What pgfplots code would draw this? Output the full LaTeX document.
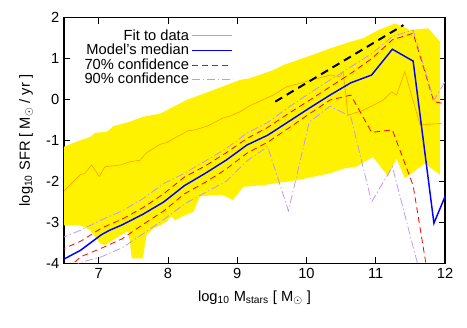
\documentclass[border=0pt]{standalone}
\usepackage{fontspec}
\setmainfont{Liberation Sans}
\usepackage{pgfplots}
\pgfplotsset{compat=1.18}

\definecolor{fitorange}{RGB}{255,165,0}
\definecolor{lavender}{RGB}{190,150,255}

\begin{document}
\begin{tikzpicture}[font=\fontsize{11}{13}\selectfont]
\begin{axis}[
  scale only axis, width=285.75pt, height=184.2pt,
  xmin=6.5, xmax=12, ymin=-4, ymax=2,
  xtick={7,...,12}, ytick={-4,...,2},
  tick align=inside, major tick length=4.5pt,
  tick style={black, line width=0.6pt},
  /pgf/number format/assume math mode=true,
  every axis label/.append style={font=\fontsize{11}{13}\selectfont},
  tick label style={font=\fontsize{11}{13}\selectfont},
  xlabel={log\textsubscript{10} M\textsubscript{stars} [ M$_\odot$ ]},
  ylabel={log\textsubscript{10} SFR [ M$_\odot$ / yr ]},
  xlabel style={yshift=-2.5pt},
  ylabel style={yshift=3pt},
  axis line style={line width=0.8pt},
  legend plot pos=right, legend cell align=right,
  legend style={draw=none, fill=none, at={(0.455,0.975)}, anchor=north east,
    row sep=-2.5pt, font=\fontsize{11}{13}\selectfont},
  legend image code/.code={\draw[#1] (0pt,0pt) -- (30pt,0pt);},
]
% yellow band: upper edge left to right, lower edge right to left
\addplot[fill=yellow, draw=none, forget plot] coordinates {
 (6.5,-1.15) (6.68,-1.03) (6.88,-0.91) (6.95,-0.81) (7.12,-0.79) (7.21,-0.65)
 (7.45,-0.54) (7.64,-0.42) (7.89,-0.34) (8.27,-0.01) (8.65,0.23) (9.04,0.48)
 (9.18,0.52) (9.52,0.72) (9.66,0.84) (10.15,1.13) (10.34,1.25) (10.63,1.41)
 (10.82,1.50) (11.04,1.70) (11.28,1.86) (11.49,1.70) (11.76,1.74) (11.93,1.41)
 (11.93,-1.84) (11.71,-1.56) (11.42,-1.92) (11.3,-1.44) (11.18,-1.88) (10.96,-1.40)
 (10.72,-1.64) (10.55,-1.68) (10.34,-1.80) (9.86,-1.97) (9.38,-2.09) (9.09,-2.13)
 (8.94,-2.45) (8.78,-2.33) (8.65,-2.33) (8.46,-2.37) (8.37,-2.74) (8.2,-2.86)
 (8.1,-2.95) (8.05,-2.85) (7.98,-2.98) (7.89,-3.07) (7.79,-3.15) (7.69,-3.31)
 (7.64,-3.88) (7.48,-3.88) (7.43,-3.23) (7.40,-3.23) (7.09,-3.55) (7.02,-3.51)
 (6.88,-3.19) (6.73,-3.07) (6.5,-3.07)
} -- cycle;

\addplot[fitorange, line width=0.5pt] coordinates {
 (6.5,-2.23) (6.73,-1.84) (6.8,-1.80) (6.9,-1.60) (7.01,-1.88) (7.09,-1.64)
 (7.31,-1.60) (7.45,-1.52) (7.6,-1.48) (7.69,-1.30) (7.89,-1.09) (7.98,-1.05)
 (8.29,-0.76) (8.39,-0.74) (8.58,-0.64) (8.78,-0.46) (8.9,-0.40) (9.04,-0.30)
 (9.18,-0.15) (9.52,0.11) (9.71,0.31) (9.91,0.40) (10.34,0.60) (10.48,0.56)
 (10.53,0.68) (10.6,-0.38) (10.82,-0.26) (11.11,-0.01) (11.23,0.19) (11.3,0.11)
 (11.42,0.68) (11.64,-0.62) (11.95,-0.58)
};
\addlegendentry{Fit to data}

\addplot[blue, line width=1.1pt] coordinates {
 (6.44,-3.95) (6.74,-3.68) (7.04,-3.30) (7.16,-3.19) (7.34,-3.06) (7.64,-2.80)
 (7.94,-2.50) (8.24,-2.10) (8.54,-1.80) (8.84,-1.48) (9.14,-1.11) (9.44,-0.87)
 (9.74,-0.54) (10.04,-0.21) (10.34,0.11) (10.64,0.41) (10.94,0.60) (11.24,1.23)
 (11.54,0.94) (11.84,-3.02) (12.14,-1.80)
};
\addlegendentry{Model's median}

\addplot[red, line width=0.6pt, dash pattern=on 4.5pt off 3pt] coordinates {
 (6.44,-3.68) (6.74,-3.46) (7.04,-3.14) (7.34,-2.92) (7.64,-2.64) (7.94,-2.30)
 (8.24,-1.89) (8.54,-1.62) (8.84,-1.30) (9.14,-0.95) (9.44,-0.68) (9.74,-0.34)
 (10.04,-0.02) (10.34,0.31) (10.64,0.64) (10.94,1.00) (11.24,1.46) (11.54,1.62)
 (11.84,-0.05) (12.14,-0.15)
};
\addlegendentry{70\% confidence}

\addplot[lavender, line width=0.6pt, dash pattern=on 6pt off 2pt on 1pt off 2pt] coordinates {
 (6.44,-3.40) (6.74,-3.19) (7.04,-2.94) (7.34,-2.72) (7.64,-2.42) (7.94,-2.05)
 (8.24,-1.80) (8.54,-1.50) (8.84,-1.20) (9.14,-0.82) (9.44,-0.56) (9.74,-0.19)
 (10.04,0.15) (10.34,0.48) (10.64,0.80) (10.94,1.12) (11.24,1.54) (11.54,1.70)
 (11.84,-0.02) (12.14,0.84)
};
\addlegendentry{90\% confidence}

\addplot[red, line width=0.6pt, dash pattern=on 4.5pt off 3pt, forget plot] coordinates {
 (6.44,-4.30) (6.74,-3.84) (7.04,-3.63) (7.34,-3.40) (7.64,-3.05) (7.94,-2.72)
 (8.24,-2.30) (8.54,-2.02) (8.84,-1.70) (9.14,-1.31) (9.44,-1.04) (9.74,-0.70)
 (10.04,-0.35) (10.34,-0.01) (10.64,0.11) (10.94,-0.80) (11.24,-0.74) (11.54,-2.10)
 (11.84,-5.20)
};

\addplot[lavender, line width=0.6pt, dash pattern=on 6pt off 2pt on 1pt off 2pt, forget plot] coordinates {
 (6.44,-4.30) (6.74,-3.98) (7.04,-3.84) (7.34,-3.62) (7.64,-3.28) (7.94,-2.93)
 (8.24,-2.55) (8.54,-2.27) (8.84,-2.00) (9.14,-1.50) (9.44,-1.15) (9.74,-2.72)
 (10.04,-0.55) (10.34,-0.16) (10.64,-0.42) (10.94,-2.50) (11.24,-1.64) (11.54,-3.60)
 (11.84,-5.50)
};

\addplot[black, line width=1.5pt, dash pattern=on 6pt off 4pt, forget plot] coordinates {
 (9.55,-0.05) (11.4,1.82)
};

\coordinate (sw) at (rel axis cs:0,0);
\coordinate (ne) at (rel axis cs:1,1);
\end{axis}
\path ([shift={(-48pt,-47.8pt)}]sw) rectangle ([shift={(16.5pt,13.3pt)}]ne);
\end{tikzpicture}
\end{document}
